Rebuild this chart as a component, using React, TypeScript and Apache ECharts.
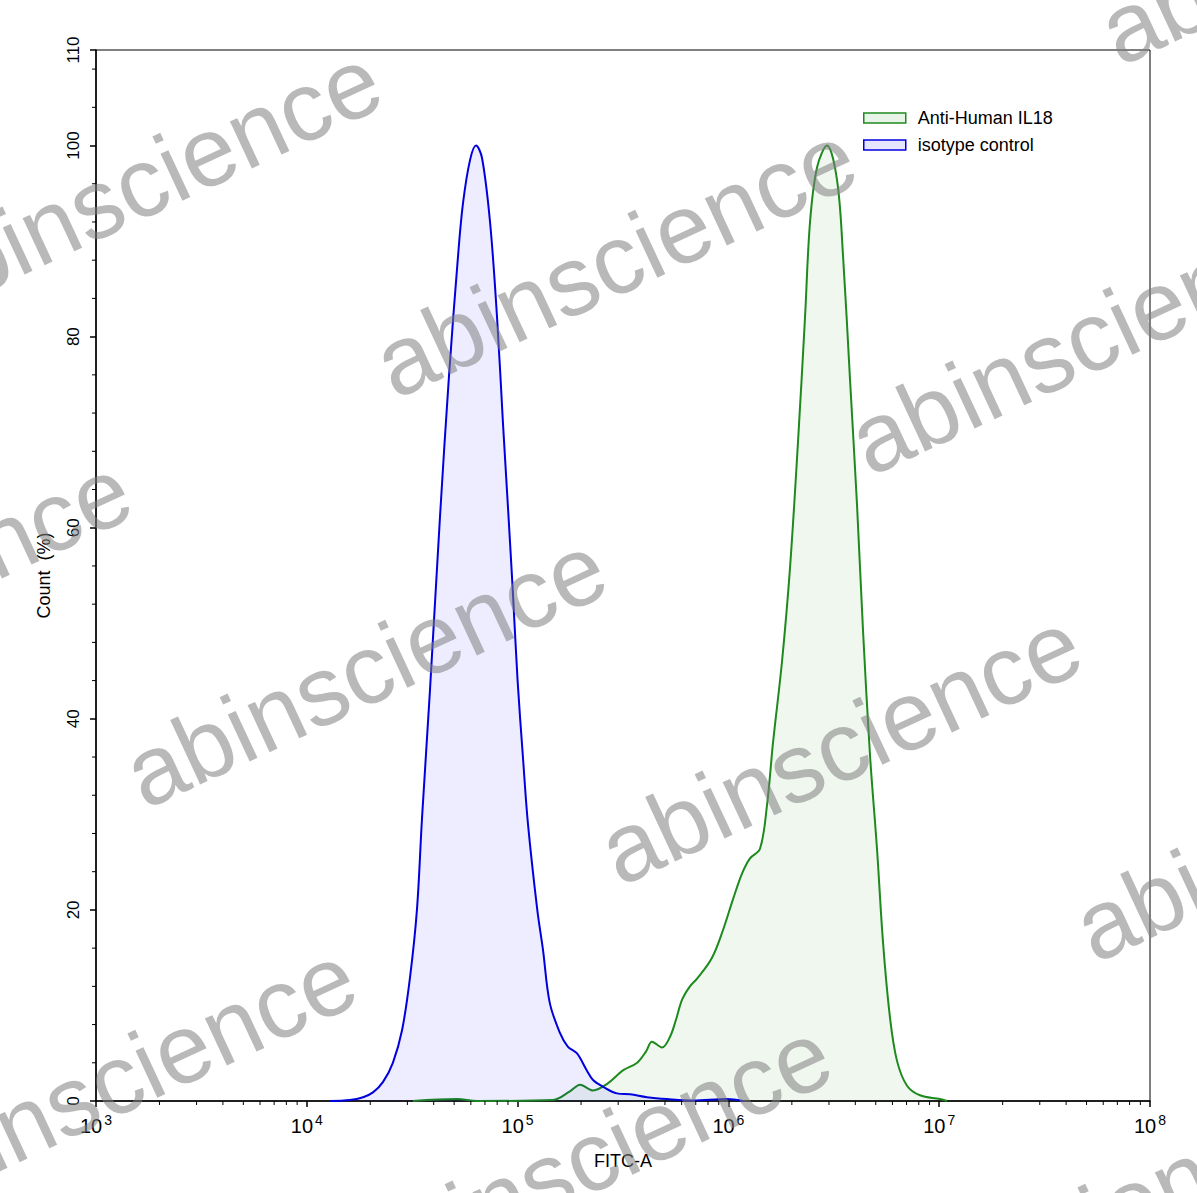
import React, { useEffect, useRef } from "react";
import * as echarts from "echarts";

// ---------- data ----------
const seriesNames = ["Anti-Human IL18", "isotype control"];

// isotype control histogram: FITC-A value, count (%)
const isotypeX = [
  1.29e4, 1.6e4, 1.85e4, 2.06e4, 2.3e4, 2.56e4, 2.83e4, 3.09e4, 3.33e4, 3.52e4,
  3.84e4, 4.28e4, 4.73e4, 5.22e4, 5.51e4, 5.95e4, 6.35e4, 6.78e4, 7.4e4, 7.99e4,
  8.52e4, 9.01e4, 9.51e4, 1.0e5, 1.06e5, 1.12e5, 1.24e5, 1.32e5, 1.42e5, 1.59e5,
  1.73e5, 1.91e5, 2.13e5, 2.28e5, 2.54e5, 2.96e5, 3.42e5, 4.11e5, 5.11e5, 6.79e5,
  9.85e5, 1.17e6,
];
const isotypeY = [
  0, 0.1, 0.4, 0.9, 2.0, 4.0, 7.4, 13, 20, 29.6,
  43, 61, 76, 88.5, 94, 98.5, 100, 98.7, 92, 82,
  71, 62, 53, 44, 36, 29, 20, 15.8, 10.3, 7.1,
  5.7, 5.0, 3.2, 2.2, 1.5, 0.8, 0.7, 0.4, 0.2, 0.05,
  0.2, 0,
];

// Anti-Human IL18 histogram
const il18X = [
  3.19e4, 5.16e4, 6.42e4, 1.47e5, 1.77e5, 1.98e5, 2.28e5, 2.66e5, 3.16e5, 3.69e5,
  4.07e5, 4.34e5, 4.84e5, 5.28e5, 5.64e5, 6.03e5, 6.57e5, 7.1e5, 8.36e5, 9.43e5,
  1.051e6, 1.16e6, 1.266e6, 1.412e6, 1.525e6, 1.628e6, 1.796e6, 1.96e6, 2.139e6, 2.309e6,
  2.439e6, 2.633e6, 2.936e6, 3.275e6, 3.497e6, 3.775e6, 4.075e6, 4.35e6, 4.696e6, 5.069e6,
  5.414e6, 5.844e6, 6.308e6, 7.036e6, 8.107e6, 1.009e7, 1.089e7,
];
const il18Y = [
  0, 0.2, 0, 0.1, 1.0, 1.7, 1.1, 1.8, 3.2, 4.0,
  5.2, 6.2, 5.6, 6.7, 8.5, 10.6, 12, 12.8, 15, 17.9,
  21.1, 23.8, 25.4, 26.4, 31, 37.5, 46, 55.8, 69, 82,
  92, 97.7, 100, 96.4, 88.5, 75.5, 62.4, 49.3, 36.2, 26.4,
  16.6, 8.7, 4.2, 1.6, 0.6, 0.2, 0,
];

const xMin = 1e3;
const xMax = 1e8;
const yMin = 0;
const yMax = 110;
const yInterval = 20;
const xMinorTicks = [
  2e3, 3e3, 4e3, 5e3, 6e3, 7e3, 8e3, 9e3,
  2e4, 3e4, 4e4, 5e4, 6e4, 7e4, 8e4, 9e4,
  2e5, 3e5, 4e5, 5e5, 6e5, 7e5, 8e5, 9e5,
  2e6, 3e6, 4e6, 5e6, 6e6, 7e6, 8e6, 9e6,
  2e7, 3e7, 4e7, 5e7, 6e7, 7e7, 8e7, 9e7,
];
const yMinorTicks = [
  4, 8, 12, 16, 24, 28, 32, 36, 44, 48, 52, 56, 64, 68, 72, 76,
  84, 88, 92, 96, 104, 108,
];
const watermarkText = "abinscience";

// ---------- layout / style ----------
const FONT = "'Liberation Sans', Arial, Helvetica, sans-serif";
const GREEN = "#1e8a1e";
const GREEN_FILL = "rgba(0,128,0,0.09)";
const BLUE = "#0000dd";
const BLUE_FILL = "rgba(0,0,255,0.1)";

const watermarkCenters = [
  [140, 183], [615, 260], [1090, 337], [1340, -73],
  [-110, 593], [365, 670], [840, 747], [1315, 824],
  [115, 1080], [590, 1157], [1065, 1234],
];

export default function App() {
  const ref = useRef<HTMLDivElement>(null);

  useEffect(() => {
    if (!ref.current) return;
    const chart = echarts.init(ref.current, null, { renderer: "svg" });

    const zip = (xs: number[], ys: number[]) => xs.map((x, i) => [x, ys[i]]);

    const option: any = {
      animation: false,
      backgroundColor: "#fff",
      grid: {
        left: 96,
        right: 47,
        top: 50,
        bottom: 92,
        show: true,
        borderColor: "#000",
        borderWidth: 1,
        backgroundColor: "transparent",
      },
      legend: {
        orient: "vertical",
        left: 858,
        top: 104,
        itemWidth: 42,
        itemHeight: 10,
        itemGap: 9,
        icon: "rect",
        selectedMode: false,
        textStyle: {
          fontSize: 18,
          fontFamily: FONT,
          color: "#000",
          padding: [0, 0, 0, 7],
        },
        data: [
          {
            name: seriesNames[0],
            itemStyle: { color: GREEN_FILL, borderColor: GREEN, borderWidth: 1.5 },
          },
          {
            name: seriesNames[1],
            itemStyle: { color: BLUE_FILL, borderColor: BLUE, borderWidth: 1.5 },
          },
        ],
      },
      xAxis: {
        type: "log",
        logBase: 10,
        min: xMin,
        max: xMax,
        name: "FITC-A",
        nameLocation: "middle",
        nameGap: 51,
        nameTextStyle: { fontSize: 18, fontFamily: FONT, color: "#000" },
        axisLine: { lineStyle: { color: "#000", width: 1.5 } },
        axisTick: { show: true, inside: false, length: 6, lineStyle: { color: "#000", width: 1.5 } },
        splitLine: { show: false },
        axisLabel: {
          margin: 15,
          color: "#000",
          fontFamily: FONT,
          formatter: (v: number) => `{b|10}{sup|${Math.round(Math.log10(v))}}`,
          rich: {
            b: { fontSize: 20, lineHeight: 20, fontFamily: FONT, color: "#000", verticalAlign: "bottom" },
            sup: {
              fontSize: 14,
              lineHeight: 14,
              fontFamily: FONT,
              color: "#000",
              padding: [0, 0, 9, 2],
              verticalAlign: "bottom",
            },
          },
        },
      },
      yAxis: {
        type: "value",
        min: yMin,
        max: yMax,
        interval: yInterval,
        name: "Count  (%)",
        nameLocation: "middle",
        nameGap: 43,
        nameTextStyle: { fontSize: 18, fontFamily: FONT, color: "#000" },
        axisLine: { show: true, lineStyle: { color: "#000", width: 1.5 } },
        axisTick: { show: true, inside: false, length: 6, lineStyle: { color: "#000", width: 1.5 } },
        splitLine: { show: false },
        axisLabel: {
          rotate: 90,
          margin: 14,
          fontSize: 17,
          fontFamily: FONT,
          color: "#000",
          showMaxLabel: true,
        },
      },
      graphic: watermarkCenters.map(([x, y]) => ({
        type: "text",
        x,
        y,
        rotation: (25 * Math.PI) / 180,
        z: 100,
        silent: true,
        style: {
          text: watermarkText,
          fontSize: 98,
          fontFamily: FONT,
          fill: "rgba(128,128,128,0.55)",
          align: "center",
          verticalAlign: "middle",
        },
      })),
      series: [
        {
          name: seriesNames[0],
          type: "line",
          data: zip(il18X, il18Y),
          showSymbol: false,
          smooth: 0.35,
          lineStyle: { color: GREEN, width: 2 },
          itemStyle: { color: GREEN },
          areaStyle: { color: GREEN_FILL, origin: "start" },
          z: 2,
        },
        {
          name: seriesNames[1],
          type: "line",
          data: zip(isotypeX, isotypeY),
          showSymbol: false,
          smooth: 0.35,
          lineStyle: { color: BLUE, width: 2 },
          itemStyle: { color: BLUE },
          areaStyle: { color: BLUE_FILL, origin: "start" },
          z: 3,
        },
        {
          name: "xMinor",
          type: "custom",
          silent: true,
          clip: false,
          z: 5,
          data: xMinorTicks.map((v) => [v, yMin]),
          renderItem: (_p: any, api: any) => {
            const pt = api.coord([api.value(0), api.value(1)]);
            return {
              type: "line",
              shape: { x1: pt[0], y1: pt[1], x2: pt[0], y2: pt[1] + 4 },
              style: { stroke: "#000", lineWidth: 1 },
            };
          },
        },
        {
          name: "yMinor",
          type: "custom",
          silent: true,
          clip: false,
          z: 5,
          data: yMinorTicks.map((v) => [xMin, v]),
          renderItem: (_p: any, api: any) => {
            const pt = api.coord([api.value(0), api.value(1)]);
            return {
              type: "line",
              shape: { x1: pt[0] - 4, y1: pt[1], x2: pt[0], y2: pt[1] },
              style: { stroke: "#000", lineWidth: 1 },
            };
          },
        },
      ],
    };

    chart.setOption(option);
    return () => chart.dispose();
  }, []);

  return (
    <div
      ref={ref}
      style={{ position: "absolute", left: 0, top: 0, width: 1197, height: 1193, background: "#fff" }}
    />
  );
}
